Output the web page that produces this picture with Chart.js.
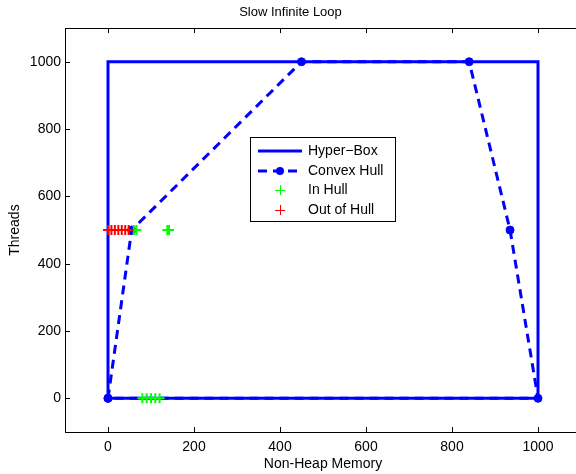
<!DOCTYPE html>
<html>
<head>
<meta charset="utf-8">
<script src="https://cdn.jsdelivr.net/npm/chart.js@4"></script>
<style>
html, body { margin: 0; padding: 0; background: #fff; overflow: hidden; width: 576px; height: 474px; }
#clip { position: relative; width: 576px; height: 474px; overflow: hidden; }
#chart { position: absolute; left: 0; top: 0; }
</style>
</head>
<body>
<div id="clip"><canvas id="chart" width="581" height="474"></canvas></div>
<script>
const boxX = [0, 0, 1000, 1000, 0];
const boxY = [0, 1000, 1000, 0, 0];
const hullX = [0, 55, 450, 840, 935, 1000, 0];
const hullY = [0, 500, 1000, 1000, 500, 0, 0];
const inX = [60, 66, 138, 142, 80, 90, 100, 110, 120];
const inY = [500, 500, 500, 500, 0, 0, 0, 0, 0];
const outX = [0, 8, 16, 24, 32, 40, 48];
const outY = [500, 500, 500, 500, 500, 500, 500];
const tickValues = [0, 200, 400, 600, 800, 1000];
const legendLabels = ['Hyper\u2212Box', 'Convex Hull', 'In Hull', 'Out of Hull'];

const FONT = '"Liberation Sans", Arial, Helvetica, sans-serif';
const toPoints = (xs, ys) => xs.map((x, i) => ({ x, y: ys[i] }));

// box around the axes with inward ticks, like matlab
const framePlugin = {
    id: 'frame',
    beforeDatasetsDraw(chart) {
        const { ctx, chartArea: a, scales } = chart;
        ctx.save();
        ctx.strokeStyle = '#000';
        ctx.lineWidth = 1;
        ctx.strokeRect(Math.round(a.left) + 0.5, Math.round(a.top) + 0.5,
            Math.round(a.right - a.left), Math.round(a.bottom - a.top));
        ctx.beginPath();
        tickValues.forEach(v => {
            const px = Math.round(scales.x.getPixelForValue(v)) + 0.5;
            ctx.moveTo(px, a.bottom); ctx.lineTo(px, a.bottom - 5);
            ctx.moveTo(px, a.top); ctx.lineTo(px, a.top + 5);
            const py = Math.round(scales.y.getPixelForValue(v)) + 0.5;
            ctx.moveTo(a.left, py); ctx.lineTo(a.left + 5, py);
            ctx.moveTo(a.right, py); ctx.lineTo(a.right - 5, py);
        });
        ctx.stroke();
        ctx.restore();
    },
    afterDraw(chart) {
        const ctx = chart.ctx;
        const left = 250, top = 137, w = 145, h = 84;
        ctx.save();
        ctx.fillStyle = '#fff';
        ctx.fillRect(left, top, w, h);
        ctx.strokeStyle = '#000';
        ctx.lineWidth = 1;
        ctx.strokeRect(left + 0.5, top + 0.5, w, h);
        const rows = [151, 171, 190, 210];
        const x0 = 258, x1 = 302, xm = 280;
        // Hyper-Box
        ctx.strokeStyle = '#0000ff';
        ctx.lineWidth = 3;
        ctx.beginPath(); ctx.moveTo(x0, rows[0]); ctx.lineTo(x1, rows[0]); ctx.stroke();
        // Convex Hull
        ctx.setLineDash([9, 6]);
        ctx.beginPath(); ctx.moveTo(x0, rows[1]); ctx.lineTo(x1, rows[1]); ctx.stroke();
        ctx.setLineDash([]);
        ctx.fillStyle = '#0000ff';
        ctx.beginPath(); ctx.arc(xm, rows[1], 4, 0, Math.PI * 2); ctx.fill();
        // plus markers
        ctx.lineWidth = 1;
        [['#00ff00', rows[2]], ['#ff0000', rows[3]]].forEach(([col, y]) => {
            ctx.strokeStyle = col;
            ctx.beginPath();
            ctx.moveTo(xm - 5, y + 0.5); ctx.lineTo(xm + 5, y + 0.5);
            ctx.moveTo(xm + 0.5, y - 5); ctx.lineTo(xm + 0.5, y + 5);
            ctx.stroke();
        });
        ctx.fillStyle = '#000';
        ctx.font = '14px ' + FONT;
        ctx.textBaseline = 'middle';
        legendLabels.forEach((t, i) => ctx.fillText(t, 308, rows[i]));
        ctx.restore();
    }
};

const ctx = document.getElementById('chart').getContext('2d');
new Chart(ctx, {
    type: 'scatter',
    data: {
        datasets: [
            {
                label: 'Out of Hull',
                data: toPoints(outX, outY),
                pointStyle: 'cross',
                pointRadius: 5,
                pointBorderColor: '#ff0000',
                pointBorderWidth: 2,
                showLine: false,
            },
            {
                label: 'In Hull',
                data: toPoints(inX, inY),
                pointStyle: 'cross',
                pointRadius: 5,
                pointBorderColor: '#00ff00',
                pointBorderWidth: 2,
                showLine: false,
            },
            {
                label: 'Convex Hull',
                data: toPoints(hullX, hullY),
                showLine: true,
                borderColor: '#0000ff',
                borderWidth: 3,
                borderDash: [9, 6],
                pointRadius: 4,
                pointBackgroundColor: '#0000ff',
                pointBorderColor: '#0000ff',
                pointBorderWidth: 1,
            },
            {
                label: 'Hyper-Box',
                data: toPoints(boxX, boxY),
                showLine: true,
                borderColor: '#0000ff',
                borderWidth: 3,
                pointRadius: 0,
            },
        ],
    },
    options: {
        responsive: false,
        animation: false,
        layout: { padding: 0, autoPadding: false },
        scales: {
            x: {
                type: 'linear',
                min: -100,
                max: 1100,
                afterBuildTicks: s => { s.ticks = tickValues.map(v => ({ value: v })); },
                afterFit: s => { s.height = 42; s.paddingLeft = 0; s.paddingRight = 0; },
                grid: { display: false, drawTicks: false },
                border: { display: false },
                ticks: {
                    color: '#000', padding: 7, maxRotation: 0,
                    font: { family: FONT, size: 14 },
                    callback: v => String(v),
                },
                title: {
                    display: true,
                    text: 'Non-Heap Memory',
                    color: '#000',
                    padding: { top: 0, bottom: 1.5 },
                    font: { family: FONT, size: 14 },
                },
            },
            y: {
                type: 'linear',
                min: -100,
                max: 1100,
                afterBuildTicks: s => { s.ticks = tickValues.map(v => ({ value: v })); },
                afterFit: s => { s.width = 65; s.paddingTop = 0; s.paddingBottom = 0; },
                grid: { display: false, drawTicks: false },
                border: { display: false },
                ticks: {
                    color: '#000', padding: 4,
                    font: { family: FONT, size: 14 },
                    callback: v => String(v),
                },
                title: {
                    display: true,
                    text: 'Threads',
                    color: '#000',
                    padding: { top: 7, bottom: 0 },
                    font: { family: FONT, size: 14 },
                },
            },
        },
        plugins: {
            legend: { display: false },
            tooltip: { enabled: false },
            title: {
                display: true,
                text: 'Slow Infinite Loop',
                color: '#000',
                font: { family: FONT, size: 13, weight: 'normal' },
                padding: { top: 4.5, bottom: 8 },
            },
        },
    },
    plugins: [framePlugin],
});
</script>
</body>
</html>
